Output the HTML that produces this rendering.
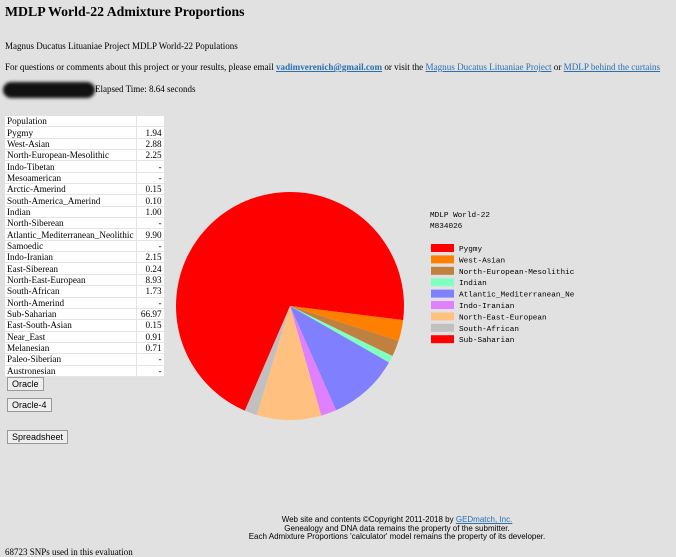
<!DOCTYPE html>
<html><head><meta charset="utf-8"><style>
body{margin:0;width:676px;height:557px;background:#e1e1e1;font-family:"Liberation Serif",serif;position:relative;overflow:hidden;color:#000}
.a{position:absolute;white-space:nowrap}
a{color:#2a6fb0}
table{border-collapse:collapse;background:#fff;font-size:9.2px}
td{height:10.35px;padding:0 2px;border-bottom:1px solid #e4e4e4;line-height:10px}
td.v{text-align:right;border-left:1px solid #e4e4e4;width:23px}
.btn{position:absolute;font:9px "Liberation Sans",sans-serif;background:#eee;border:1px solid #999;padding:1px 4px}
</style></head><body>
<div class="a" style="left:5px;top:4px;font-size:13.8px;font-weight:bold">MDLP World-22 Admixture Proportions</div>
<div class="a" style="left:5px;top:41px;font-size:9px">Magnus Ducatus Lituaniae Project MDLP World-22 Populations</div>
<div class="a" style="left:5px;top:62px;font-size:9.1px">For questions or comments about this project or your results, please email <a href="#" style="font-weight:bold">vadimverenich@gmail.com</a> or visit the <a href="#">Magnus Ducatus Lituaniae Project</a> or <a href="#">MDLP behind the curtains</a></div>
<div class="a" style="left:3px;top:82px;width:92px;height:16px;background:#111;border-radius:8px;filter:blur(1.5px)"></div>
<div class="a" style="left:95px;top:84px;font-size:9px">Elapsed Time: 8.64 seconds</div>
<div class="a" style="left:5px;top:116px">
<table id="tbl"><tbody id="tb"></tbody></table></div>
<div class="btn" style="left:7px;top:377px">Oracle</div>
<div class="btn" style="left:7px;top:398px">Oracle-4</div>
<div class="btn" style="left:7px;top:430px">Spreadsheet</div>
<svg class="a" style="left:0;top:0" width="676" height="557" id="chart"></svg>
<div class="a" style="left:230px;top:516px;width:334px;text-align:center;font:8px/8.5px 'Liberation Sans',sans-serif">Web site and contents ©Copyright 2011-2018 by <a href="#">GEDmatch, Inc.</a><br>Genealogy and DNA data remains the property of the submitter.<br>Each Admixture Proportions 'calculator' model remains the property of its developer.</div>
<div class="a" style="left:5px;top:547px;font-size:9px">68723 SNPs used in this evaluation</div>
<script>
const populations=["Pygmy","West-Asian","North-European-Mesolithic","Indo-Tibetan","Mesoamerican","Arctic-Amerind","South-America_Amerind","Indian","North-Siberean","Atlantic_Mediterranean_Neolithic","Samoedic","Indo-Iranian","East-Siberean","North-East-European","South-African","North-Amerind","Sub-Saharian","East-South-Asian","Near_East","Melanesian","Paleo-Siberian","Austronesian"];
const tableValues=["1.94","2.88","2.25","-","-","0.15","0.10","1.00","-","9.90","-","2.15","0.24","8.93","1.73","-","66.97","0.15","0.91","0.71","-","-"];
const pieLabels=["Pygmy","West-Asian","North-European-Mesolithic","Indian","Atlantic_Mediterranean_Ne","Indo-Iranian","North-East-European","South-African","Sub-Saharian"];
const pieValues=[1.94,2.88,2.25,1.00,9.90,2.15,8.93,1.73,66.97];
const pieColors=["#ff0000","#ff8000","#c08040","#80ffc0","#8080ff","#e080ff","#ffc080","#c0c0c0","#ff0000"];
const tb=document.getElementById('tb');
function row(a,b){const tr=document.createElement('tr');


const t1=document.createElement('td');t1.textContent=a;const t2=document.createElement('td');t2.className='v';t2.textContent=b;tr.appendChild(t1);tr.appendChild(t2);tb.appendChild(tr);}
row("Population","");
populations.forEach((p,i)=>row(p,tableValues[i]));
const NS="http://www.w3.org/2000/svg",svg=document.getElementById('chart');
const cx=290,cy=306,r=114;
const total=pieValues.reduce((a,b)=>a+b,0);
let ang=0;
pieValues.forEach((v,i)=>{const a2=ang+v/total*2*Math.PI;
const x1=cx+r*Math.cos(ang),y1=cy+r*Math.sin(ang),x2=cx+r*Math.cos(a2),y2=cy+r*Math.sin(a2);
const p=document.createElementNS(NS,'path');
p.setAttribute('d',`M${cx},${cy}L${x1},${y1}A${r},${r} 0 ${a2-ang>Math.PI?1:0} 1 ${x2},${y2}Z`);
p.setAttribute('fill',pieColors[i]);


svg.appendChild(p);ang=a2;});
function txt(x,y,s,name){const t=document.createElementNS(NS,'text');t.setAttribute('x',x);t.setAttribute('y',y);t.setAttribute('font-family','Liberation Mono, monospace');t.setAttribute('font-size','7.7');t.textContent=s;


svg.appendChild(t);}
txt(430,217,"MDLP World-22","legend-title");
txt(430,228,"M834026","legend-kit");
pieLabels.forEach((l,i)=>{const y=244+i*11.4;
const rc=document.createElementNS(NS,'rect');rc.setAttribute('x',431);rc.setAttribute('y',y);rc.setAttribute('width',23);rc.setAttribute('height',8);rc.setAttribute('fill',pieColors[i]);


svg.appendChild(rc);txt(459,y+7,l,'legend-entry');});
</script>
</body></html>
